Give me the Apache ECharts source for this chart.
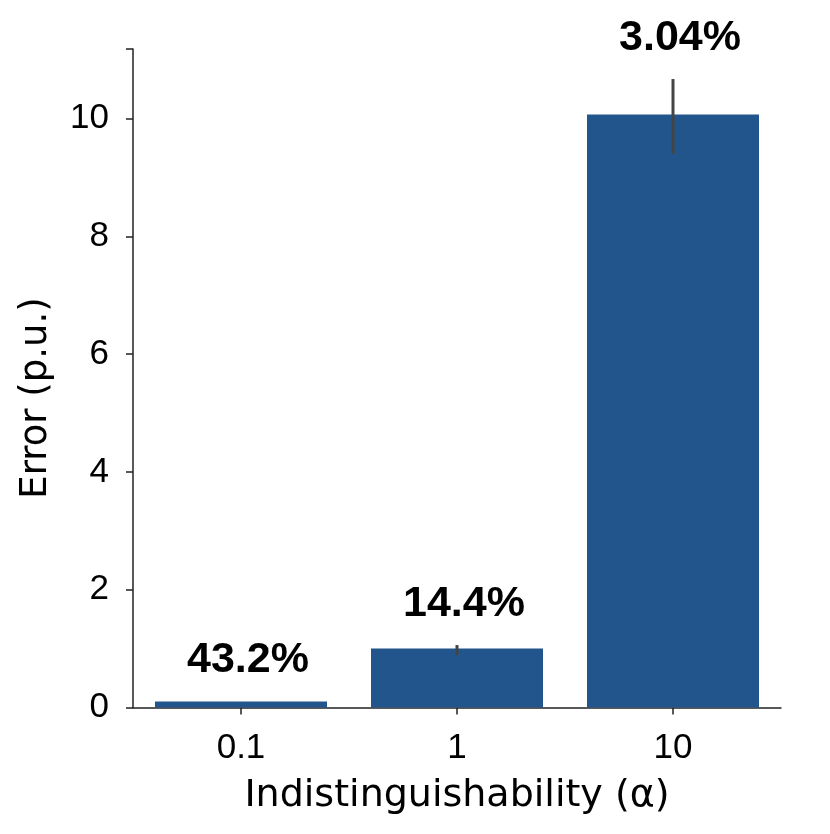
<!DOCTYPE html>
<html>
<head>
<meta charset="utf-8">
<script src="https://cdn.jsdelivr.net/npm/echarts@6/dist/echarts.min.js"></script>
<style>
html,body{margin:0;padding:0;background:#fff;}
#chart{width:830px;height:834px;}
</style>
</head>
<body>
<div id="chart"></div>
<script>
var categories = ['0.1', '1', '10'];
var errorValues = [0.10, 1.00, 10.07];
var errorLow = [0.10, 0.89, 9.40];
var errorHigh = [0.10, 1.06, 10.67];
var percentLabels = ['43.2%', '14.4%', '3.04%'];
var yTicks = [0, 2, 4, 6, 8, 10];

var FONT = '"Liberation Sans", Arial, Helvetica, sans-serif';
var TITLE_FONT = '"DejaVu Sans", sans-serif';
var chart = echarts.init(document.getElementById('chart'), null, {renderer: 'canvas'});

var errData = categories.map(function (c, i) { return [i, errorLow[i], errorHigh[i]]; });

chart.setOption({
  animation: false,
  grid: {left: 133, right: 49, top: 49, bottom: 126.5, containLabel: false},
  xAxis: {
    type: 'category',
    data: categories,
    name: 'Indistinguishability (\u03b1)',
    nameLocation: 'middle',
    nameGap: 70,
    nameTextStyle: {fontFamily: TITLE_FONT, fontSize: 38, color: '#000'},
    axisLine: {show: true, lineStyle: {color: '#222', width: 1.5}},
    axisTick: {show: true, alignWithLabel: true, length: 7, lineStyle: {color: '#222', width: 1.5}},
    axisLabel: {fontFamily: FONT, fontSize: 35, color: '#000', margin: 23},
    splitLine: {show: false}
  },
  yAxis: {
    type: 'value',
    min: 0,
    max: 11.18,
    interval: 2,
    axisLine: {show: true, lineStyle: {color: '#222', width: 1.5}},
    axisTick: {show: true, length: 7, lineStyle: {color: '#222', width: 1.5}},
    axisLabel: {
      fontFamily: FONT, fontSize: 35, color: '#000', margin: 24,
      padding: [9, 0, 0, 0],
      formatter: function (v) { return yTicks.indexOf(v) >= 0 ? String(v) : ''; }
    },
    splitLine: {show: false}
  },
  graphic: [{
    type: 'text',
    x: 36,
    y: 398,
    rotation: Math.PI / 2,
    style: {text: 'Error (p.u.)', fontFamily: TITLE_FONT, fontSize: 37, fill: '#000', textAlign: 'center', textVerticalAlign: 'middle'}
  }],
  series: [{
    type: 'bar',
    data: errorValues,
    barWidth: 172,
    itemStyle: {color: '#22558b'},
    z: 2
  }, {
    type: 'custom',
    data: errData,
    z: 5,
    renderItem: function (params, api) {
      var lo = api.coord([api.value(0), api.value(1)]);
      var hi = api.coord([api.value(0), api.value(2)]);
      return {
        type: 'group',
        children: [{
          type: 'line',
          shape: {x1: lo[0], y1: lo[1], x2: hi[0], y2: hi[1]},
          style: {stroke: '#444', lineWidth: 3}
        }, {
          type: 'text',
          x: hi[0] + 7, y: hi[1] - 41,
          style: {
            text: percentLabels[params.dataIndex],
            fontFamily: FONT, fontWeight: 'bold', fontSize: 43, fill: '#000',
            textAlign: 'center', textVerticalAlign: 'middle'
          }
        }]
      };
    }
  }]
});
</script>
</body>
</html>
